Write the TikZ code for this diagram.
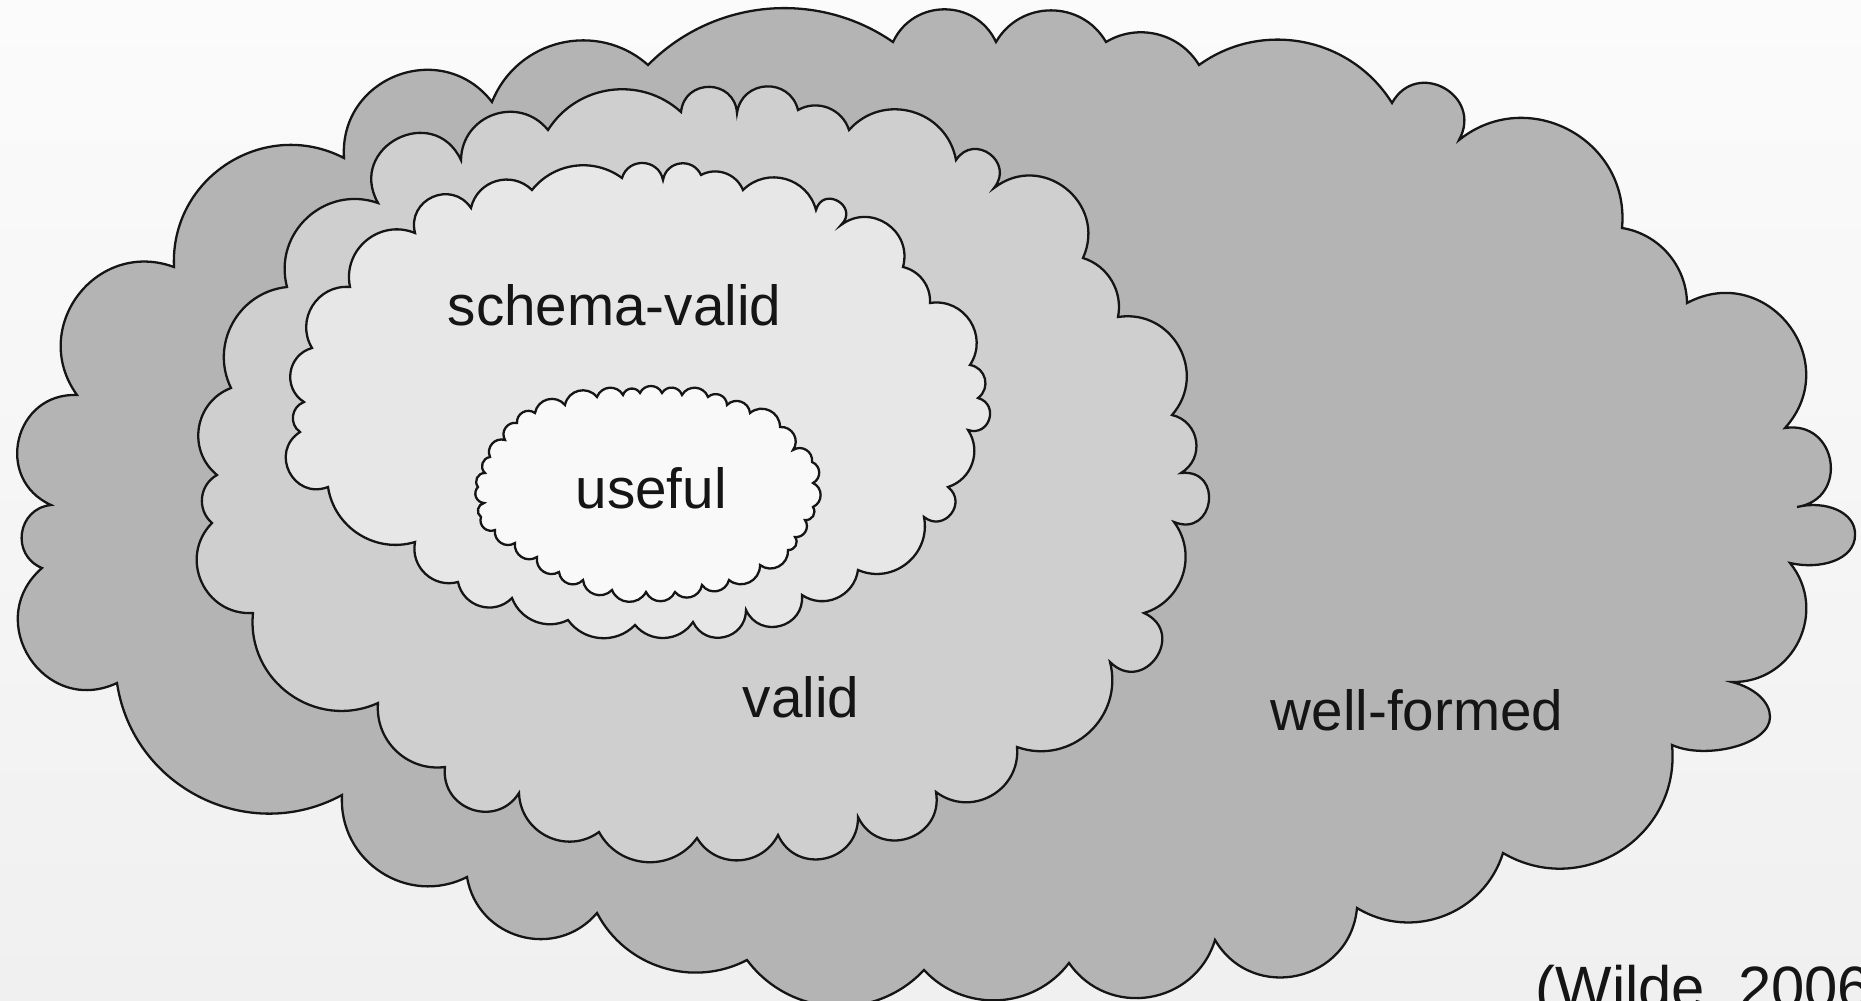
\documentclass[tikz,border=0pt]{standalone}
\usepackage{fontspec}
\setmainfont{Liberation Sans}
\definecolor{wfgray}{HTML}{B4B4B4}
\definecolor{validgray}{HTML}{CFCFCF}
\definecolor{schemagray}{HTML}{E7E7E7}
\definecolor{usefulgray}{HTML}{F9F9F9}
\definecolor{bgtop}{HTML}{FBFBFB}
\definecolor{bgbot}{HTML}{F0F0F0}
\definecolor{ink}{HTML}{151515}
\tikzset{
  % one puff of a cloud: a circular-looking arc that leaves the chord at #1 degrees
  pf/.code={\pgfmathsetmacro\puffL{0.8514/(cos(#1/2)^2)}%
    \edef\pufftmp{\noexpand\tikzset{bend left=#1,looseness=\puffL}}\pufftmp},
  pf/.default=65,
  cloudline/.style={draw=ink, line width=0.65pt},
  lbl/.style={inner sep=0pt, anchor=base west, text=ink,
    font=\fontsize{16.1pt}{19pt}\selectfont},
}
\begin{document}
\begin{tikzpicture}[x=0.01cm, y=-0.01cm]
\useasboundingbox (0,0) rectangle (1861,1000);
\clip (0,0) rectangle (1861,1000);
\shade[top color=bgtop, bottom color=bgbot] (0,0) rectangle (1861,1000);

% well-formed
\path[cloudline, fill=wfgray]
  (77,395) to[pf=73] (174,267) to[pf=60] (344,158) to[pf=73] (492,102)
  to[pf=55] (648,65) to[pf=40] (893,42) to[pf=65] (996,42) to[pf=60] (1106,42)
  to[pf=45] (1199,65) to[pf=47] (1392,103) to[pf=90] (1459,140)
  to[pf=67] (1622,228) to[pf=40] (1687,303) to[pf=80] (1785,428)
  to[pf=90] (1797,507)
  .. controls (1825,500) and (1856,512) .. (1855,535)
  .. controls (1855,560) and (1820,570) .. (1790,563)
  to[pf=65] (1732,682)
  .. controls (1755,688) and (1770,702) .. (1770,717)
  .. controls (1770,745) and (1705,760) .. (1672,745)
  to[pf=63] (1503,853) to[pf=52] (1357,908)
  to[pf=72] (1215,940) to[pf=64] (1069,963) to[pf=50] (924,970)
  to[pf=50] (747,960) to[pf=45] (597,913) to[pf=65] (467,877)
  to[pf=60] (342,795) to[pf=55] (117,683) to[pf=82] (42,568)
  to[pf=76] (51,505) to[pf=79] (77,395) -- cycle;

% valid
\path[cloudline, fill=validgray]
  (217,475) to[pf=60] (231,388) to[pf=55] (287,287) to[pf=62] (378,203)
  to[pf=92] (461,160) to[pf=70] (548,130) to[pf=50] (681,112)
  to[pf=85] (737,113) to[pf=79] (798,110) to[pf=51] (849,130)
  to[pf=64] (956,160) to[pf=93] (994,188) to[pf=76] (1083,258)
  to[pf=42] (1118,317) to[pf=70] (1172,415) to[pf=68] (1181,473)
  to[pf=104] (1174,522) to[pf=55] (1144,613) to[pf=100] (1110,662)
  to[pf=62] (1017,747) to[pf=66] (936,792) to[pf=82] (858,817)
  to[pf=78] (778,835) to[pf=61] (697,838) to[pf=58] (599,832)
  to[pf=62] (519,793) to[pf=77] (445,767) to[pf=51] (378,703)
  to[pf=60] (253,613) to[pf=69] (212,523) to[pf=55] (217,475) -- cycle;

% schema-valid
\path[cloudline, fill=schemagray]
  (300,432) to[pf=62] (304,402) to[pf=66] (312,348) to[pf=63] (350,287)
  to[pf=62] (415,233) to[pf=80] (471,208) to[pf=61] (532,190)
  to[pf=44] (622,178) to[pf=76] (663,180) to[pf=73] (701,175)
  to[pf=48] (743,190) to[pf=60] (816,210) to[pf=105] (841,225)
  to[pf=71] (903,267) to[pf=40] (930,303) to[pf=66] (970,365)
  to[pf=67] (978,398) to[pf=91] (968,430) to[pf=53] (948,487)
  to[pf=90] (924,517) to[pf=62] (858,570) to[pf=58] (802,595)
  to[pf=80] (746,610) to[pf=77] (693,622) to[pf=53] (635,625)
  to[pf=50] (568,620) to[pf=48] (512,598) to[pf=62] (458,582)
  to[pf=58] (415,542) to[pf=49] (328,487) to[pf=84] (300,432) -- cycle;

% useful
\path[cloudline, fill=usefulgray]
  (478,487) to[pf] (485,473) to[pf] (490,457) to[pf] (505,440)
  to[pf] (517,423) to[pf] (535,413) to[pf] (565,405) to[pf] (597,397)
  to[pf] (623,395) to[pf] (640,393) to[pf] (662,393) to[pf] (682,395)
  to[pf] (708,397) to[pf] (727,405) to[pf] (750,413) to[pf] (780,427)
  to[pf] (793,450) to[pf] (812,462) to[pf] (813,483) to[pf] (813,507)
  to[pf] (805,520) to[pf] (795,537) to[pf] (788,550) to[pf] (760,565)
  to[pf] (729,580) to[pf] (702,585) to[pf] (675,592) to[pf] (646,592)
  to[pf] (612,590) to[pf] (583,580) to[pf] (559,572) to[pf] (537,557)
  to[pf] (515,543) to[pf] (495,530) to[pf] (481,517) to[pf] (484,503)
  to[pf] (478,487) -- cycle;

\node[lbl] (schema) at (447,325) {schema-valid};
\node[lbl] (useful) at (575,508) {useful};
\node[lbl] (valid) at (742,717) {valid};
\node[lbl] (wellformed) at (1270,730) {well-formed};
\node[lbl, font=\fontsize{17pt}{20pt}\selectfont] (source) at (1535,1008) {(Wilde, 2006)};
\end{tikzpicture}
\end{document}
